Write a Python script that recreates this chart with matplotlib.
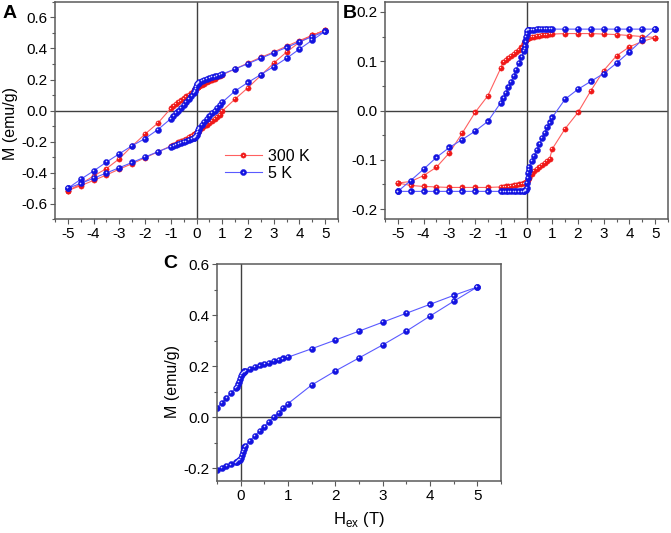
import numpy as np
import matplotlib
matplotlib.use('Agg')
import matplotlib.pyplot as plt
from matplotlib.transforms import offset_copy
from matplotlib.legend_handler import HandlerTuple
from matplotlib.ticker import MultipleLocator, FormatStrFormatter

plt.rcParams['font.family'] = ['Liberation Sans', 'DejaVu Sans']
plt.rcParams['axes.unicode_minus'] = False

# field sweep from +5 T down to -5 T (the return sweep is the same list reversed)
H_down = [5, 4.5, 4, 3.5, 3, 2.5, 2, 1.5, 1, 0.9, 0.8, 0.7, 0.6, 0.5, 0.4, 0.3, 0.2, 0.1,
          0.08, 0.06, 0.04, 0.02, 0, -0.02, -0.04, -0.06, -0.08, -0.1, -0.2, -0.3, -0.4,
          -0.5, -0.6, -0.7, -0.8, -0.9, -1, -1.5, -2, -2.5, -3, -3.5, -4, -4.5, -5]
H_up = H_down[::-1]

# panel A, raw loops (emu/g)
m300_down = [0.519, 0.485, 0.451, 0.415, 0.377, 0.343, 0.306, 0.268, 0.230, 0.222, 0.214, 0.206,
             0.198, 0.190, 0.182, 0.174, 0.166, 0.157, 0.155, 0.153, 0.151, 0.149, 0.146, 0.142,
             0.139, 0.135, 0.132, 0.128, 0.116, 0.103, 0.091, 0.078, 0.065, 0.054, 0.043, 0.031,
             0.013, -0.081, -0.152, -0.229, -0.311, -0.375, -0.422, -0.474, -0.517]
m300_up = [-0.517, -0.485, -0.451, -0.416, -0.378, -0.343, -0.305, -0.267, -0.229, -0.221, -0.213,
           -0.205, -0.197, -0.189, -0.181, -0.173, -0.165, -0.156, -0.154, -0.152, -0.150, -0.148,
           -0.145, -0.141, -0.138, -0.135, -0.132, -0.129, -0.116, -0.103, -0.091, -0.078, -0.066,
           -0.054, -0.043, -0.031, -0.003, 0.074, 0.147, 0.226, 0.306, 0.377, 0.440, 0.484, 0.519]
m5_down = [0.510, 0.477, 0.442, 0.407, 0.372, 0.337, 0.302, 0.268, 0.235, 0.230, 0.225, 0.220,
           0.214, 0.209, 0.203, 0.197, 0.190, 0.182, 0.179, 0.176, 0.173, 0.170, 0.163, 0.150,
           0.138, 0.128, 0.120, 0.114, 0.095, 0.075, 0.056, 0.036, 0.017, -0.001, -0.018, -0.036,
           -0.053, -0.123, -0.181, -0.227, -0.279, -0.333, -0.390, -0.444, -0.502]
m5_up = [-0.502, -0.470, -0.437, -0.403, -0.369, -0.335, -0.300, -0.266, -0.233, -0.228, -0.223,
         -0.217, -0.211, -0.205, -0.199, -0.192, -0.185, -0.177, -0.175, -0.172, -0.169, -0.166,
         -0.160, -0.147, -0.136, -0.126, -0.118, -0.111, -0.092, -0.073, -0.055, -0.037, -0.018,
         0.000, 0.017, 0.035, 0.053, 0.126, 0.181, 0.232, 0.283, 0.337, 0.396, 0.454, 0.510]

# panel B, loops after background removal
b300_down = [0.148, 0.150, 0.152, 0.154, 0.155, 0.156, 0.156, 0.156, 0.155, 0.155, 0.154, 0.154,
             0.153, 0.152, 0.151, 0.150, 0.149, 0.148, 0.148, 0.147, 0.147, 0.146, 0.145, 0.142,
             0.140, 0.138, 0.136, 0.134, 0.128, 0.123, 0.118, 0.114, 0.110, 0.106, 0.102, 0.098,
             0.086, 0.030, -0.004, -0.046, -0.086, -0.115, -0.132, -0.144, -0.147]
b300_up = [-0.147, -0.152, -0.154, -0.155, -0.156, -0.156, -0.156, -0.156, -0.155, -0.155, -0.154,
           -0.154, -0.153, -0.152, -0.151, -0.150, -0.149, -0.148, -0.148, -0.147, -0.147, -0.146,
           -0.145, -0.142, -0.140, -0.138, -0.136, -0.134, -0.128, -0.123, -0.118, -0.114, -0.110,
           -0.106, -0.102, -0.098, -0.078, -0.037, -0.004, 0.040, 0.081, 0.111, 0.129, 0.140, 0.148]
b5_down = [0.165, 0.165, 0.165, 0.165, 0.165, 0.165, 0.165, 0.165, 0.165, 0.165, 0.165, 0.165,
           0.165, 0.165, 0.165, 0.164, 0.164, 0.164, 0.164, 0.163, 0.163, 0.161, 0.156, 0.150,
           0.140, 0.131, 0.125, 0.120, 0.108, 0.096, 0.083, 0.070, 0.058, 0.047, 0.036, 0.026,
           0.016, -0.022, -0.042, -0.059, -0.075, -0.095, -0.119, -0.142, -0.164]
b5_up = [-0.164, -0.164, -0.164, -0.164, -0.164, -0.164, -0.164, -0.164, -0.164, -0.164, -0.164,
         -0.164, -0.164, -0.164, -0.164, -0.164, -0.164, -0.164, -0.163, -0.162, -0.162, -0.161,
         -0.157, -0.146, -0.136, -0.127, -0.120, -0.114, -0.103, -0.092, -0.080, -0.068, -0.056,
         -0.045, -0.034, -0.024, -0.014, 0.023, 0.043, 0.059, 0.075, 0.096, 0.119, 0.143, 0.165]

RED, RED_LINE = '#f01818', '#ff6060'
BLUE, BLUE_LINE = '#1414e0', '#5a5aff'
AX_GRAY = '#5a5a5a'


def balls(ax, x, y, face, line, ms, hl_color, label=None):
    # Origin-like sphere markers: solid ball with a small light highlight
    main, = ax.plot(x, y, '-', color=line, lw=0.8, marker='o', ms=ms, mfc=face,
                    mec=face, mew=0.3, label=label)
    hl_tr = offset_copy(ax.transData, fig=ax.figure, x=-0.6, y=0.6, units='points')
    hl, = ax.plot(x, y, marker='o', ms=ms * 0.26, mfc=hl_color, mec='none',
                  transform=hl_tr, linestyle='none')
    return main, hl


def style(ax, xmaj, xmin, ymaj, ymin, fmt):
    for s in ax.spines.values():
        s.set_color(AX_GRAY)
        s.set_linewidth(1.1)
    ax.axhline(0, color='#404040', lw=1.0, zorder=1)
    ax.axvline(0, color='#404040', lw=1.0, zorder=1)
    ax.xaxis.set_major_locator(MultipleLocator(xmaj))
    ax.xaxis.set_minor_locator(MultipleLocator(xmin))
    ax.yaxis.set_major_locator(MultipleLocator(ymaj))
    ax.yaxis.set_minor_locator(MultipleLocator(ymin))
    ax.yaxis.set_major_formatter(FormatStrFormatter(fmt))
    ax.xaxis.set_major_formatter(FormatStrFormatter('%d'))
    ax.tick_params(which='major', direction='out', length=3.5, width=0.8, color=AX_GRAY,
                   labelsize=11, pad=2)
    ax.tick_params(which='minor', direction='out', length=2, width=0.8, color=AX_GRAY)


fig = plt.figure(figsize=(6.71, 5.33), dpi=100)
axA = fig.add_axes([55 / 671, 1 - 219 / 533, 283 / 671, 217 / 533])
axB = fig.add_axes([385 / 671, 1 - 219 / 533, 283 / 671, 217 / 533])
axC = fig.add_axes([217 / 671, 1 - 481 / 533, 284 / 671, 217 / 533])

# A
r1 = balls(axA, H_down + H_up, m300_down + m300_up, RED, RED_LINE, 3.8, '#ffd0d0')
b1 = balls(axA, H_down + H_up, m5_down + m5_up, BLUE, BLUE_LINE, 4.4, '#d8d8ff')
axA.set_xlim(-5.5, 5.5)
axA.set_ylim(-0.7, 0.7)
style(axA, 1, 0.5, 0.2, 0.1, '%.1f')
axA.set_ylabel('M (emu/g)', fontsize=11.5)
axA.yaxis.set_label_coords(-0.129, 0.44)
axA.legend([r1, b1], ['300 K', '5 K'], handler_map={tuple: HandlerTuple(ndivide=1)},
           loc='center left', bbox_to_anchor=(0.6, 0.25), frameon=False, fontsize=11.5,
           handlelength=2.3, handletextpad=0.4, labelspacing=0.1, borderpad=0,
           borderaxespad=0, numpoints=1)

# B
balls(axB, H_down + H_up, b300_down + b300_up, RED, RED_LINE, 3.8, '#ffd0d0')
balls(axB, H_down + H_up, b5_down + b5_up, BLUE, BLUE_LINE, 4.4, '#d8d8ff')
axB.set_xlim(-5.5, 5.5)
axB.set_ylim(-0.22, 0.22)
style(axB, 1, 0.5, 0.1, 0.05, '%.1f')

# C: the 5 K loop, positive side
balls(axC, H_down + H_up, m5_down + m5_up, BLUE, BLUE_LINE, 4.4, '#d8d8ff')
axC.set_xlim(-0.5, 5.5)
axC.set_ylim(-0.25, 0.6)
style(axC, 1, 0.5, 0.2, 0.1, '%.1f')
axC.set_ylabel('M (emu/g)', fontsize=11.5)
axC.yaxis.set_label_coords(-0.130, 0.457)
axC.set_xlabel(r'H$_{\mathregular{ex}}$ (T)', fontsize=12, labelpad=5)

fig.text(3 / 671, 1 - 14 / 533, 'A', fontsize=14, fontweight='bold', va='center', ha='left')
fig.text(343 / 671, 1 - 14 / 533, 'B', fontsize=14, fontweight='bold', va='center', ha='left')
fig.text(163 / 671, 1 - 264 / 533, 'C', fontsize=14, fontweight='bold', va='center', ha='left')

fig.savefig('out.png', dpi=100)
